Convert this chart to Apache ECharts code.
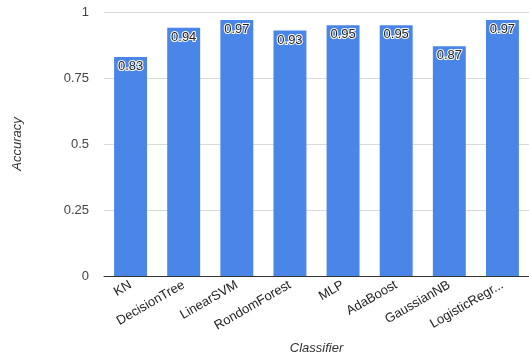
<!DOCTYPE html>
<html><head><meta charset="utf-8">
<script src="https://cdn.jsdelivr.net/npm/echarts@6/dist/echarts.min.js"></script>
<style>html,body{margin:0;padding:0;background:#fff}#c{width:529px;height:360px}</style>
</head><body><div id="c"></div>
<script>
const categories = ["KN","DecisionTree","LinearSVM","RondomForest","MLP","AdaBoost","GaussianNB","LogisticRegr..."];
const accuracy = [0.83,0.94,0.97,0.93,0.95,0.95,0.87,0.97];
const yTicks = [0,0.25,0.5,0.75,1];
const chart = echarts.init(document.getElementById('c'));
chart.setOption({
  animation:false,
  grid:{left:104,right:0,top:12,bottom:84,containLabel:false,outerBoundsMode:'none'},
  xAxis:{type:'category',data:categories,
    name:'Classifier',nameLocation:'middle',nameGap:66,
    nameTextStyle:{fontFamily:'Liberation Sans',fontStyle:'italic',fontSize:13,color:'#333'},
    axisTick:{show:false},
    axisLine:{lineStyle:{color:'#333',width:1}},
    axisLabel:{rotate:30,fontFamily:'Liberation Sans',fontSize:13,color:'#222',margin:8,interval:0}},
  yAxis:{type:'value',min:0,max:1,interval:0.25,
    name:'Accuracy',nameLocation:'middle',nameGap:80,
    nameTextStyle:{fontFamily:'Liberation Sans',fontStyle:'italic',fontSize:13,color:'#333'},
    axisLabel:{fontFamily:'Liberation Sans',fontSize:13,color:'#444',margin:15,
      formatter:v=>yTicks.includes(v)?String(v):''},
    splitLine:{lineStyle:{color:'#d9d9d9'}}},
  series:[{type:'bar',data:accuracy,barCategoryGap:'38%',
    itemStyle:{color:'#4a86e8'},
    label:{show:true,position:'insideTop',distance:3,fontFamily:'Liberation Sans',fontSize:13,
      color:'#222',textBorderColor:'#fff',textBorderWidth:2,formatter:p=>p.value.toFixed(2)}}]
});
</script></body></html>
